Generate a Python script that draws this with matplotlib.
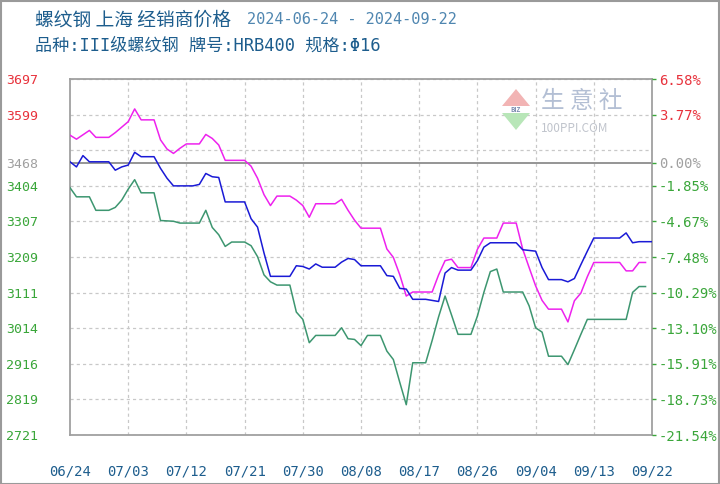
import matplotlib
matplotlib.use("Agg")
import matplotlib.pyplot as plt
from matplotlib.patches import Rectangle, Polygon
import pandas as pd

# ---------------- data ----------------
start_date = "2024-06-24"
tick_labels = ["06/24", "07/03", "07/12", "07/21", "07/30", "08/08",
               "08/17", "08/26", "09/04", "09/13", "09/22"]

price_high = [3543, 3532, 3544, 3556, 3537, 3537, 3537, 3550, 3565, 3580,
              3615, 3585, 3585, 3585, 3530, 3505, 3493, 3507, 3519, 3519,
              3519, 3545, 3534, 3516, 3474, 3474, 3474, 3474, 3458, 3425,
              3380, 3350, 3376, 3376, 3376, 3365, 3350, 3318, 3355, 3355,
              3355, 3355, 3367, 3337, 3310, 3288, 3288, 3288, 3288, 3231,
              3208, 3160, 3102, 3113, 3113, 3113, 3113, 3160, 3199, 3203,
              3180, 3180, 3180, 3230, 3261, 3261, 3261, 3302, 3302, 3302,
              3231, 3180, 3130, 3090, 3066, 3066, 3066, 3031, 3089, 3110,
              3155, 3194, 3194, 3194, 3194, 3194, 3171, 3171, 3194, 3194]

price_avg = [3470, 3456, 3487, 3470, 3470, 3470, 3470, 3447, 3456, 3461,
             3496, 3484, 3484, 3484, 3452, 3425, 3404, 3404, 3404, 3404,
             3408, 3438, 3429, 3427, 3360, 3360, 3360, 3360, 3314, 3291,
             3220, 3156, 3156, 3156, 3156, 3185, 3183, 3176, 3190, 3181,
             3181, 3181, 3195, 3205, 3202, 3185, 3185, 3185, 3185, 3158,
             3156, 3123, 3121, 3093, 3093, 3093, 3090, 3087, 3165, 3180,
             3173, 3173, 3173, 3199, 3236, 3248, 3248, 3248, 3248, 3248,
             3229, 3227, 3225, 3180, 3147, 3147, 3147, 3141, 3150, 3188,
             3225, 3261, 3261, 3261, 3261, 3261, 3275, 3248, 3251, 3251,
             3251]

price_low = [3399, 3374, 3374, 3374, 3337, 3337, 3337, 3345, 3365, 3395,
             3421, 3385, 3385, 3385, 3309, 3308, 3307, 3302, 3302, 3302,
             3302, 3337, 3290, 3270, 3238, 3250, 3250, 3250, 3240, 3210,
             3160, 3141, 3132, 3132, 3132, 3058, 3038, 2974, 2994, 2994,
             2994, 2994, 3015, 2985, 2983, 2966, 2994, 2994, 2994, 2951,
             2928, 2865, 2804, 2919, 2919, 2919, 2980, 3045, 3102, 3050,
             2997, 2997, 2997, 3047, 3112, 3169, 3176, 3113, 3113, 3113,
             3113, 3075, 3015, 3003, 2937, 2937, 2937, 2914, 2955, 2997,
             3038, 3038, 3038, 3038, 3038, 3038, 3038, 3112, 3128, 3128]

base_price = 3468
left_ticks = [3697, 3599, 3468, 3404, 3307, 3209, 3111, 3014, 2916, 2819, 2721]
right_labels = ["6.58%", "3.77%", "0.00%", "-1.85%", "-4.67%", "-7.48%",
                "-10.29%", "-13.10%", "-15.91%", "-18.73%", "-21.54%"]
grid_levels = [3697, 3599.4, 3501.8, 3404.2, 3306.6, 3209, 3111.4,
               3013.8, 2916.2, 2818.6, 2721]

title_main = "螺纹钢 上海 经销商价格"
title_dates = "2024-06-24 - 2024-09-22"
subtitle = "品种:III级螺纹钢 牌号:HRB400 规格:Φ16"

# ---------------- style ----------------
RED = "#e8323c"
GREEN = "#3aa63a"
GRAY = "#a0a0a0"
TITLE_C = "#1d5d8d"
C_HIGH = "#ee22ee"
C_AVG = "#1a1ad6"
C_LOW = "#3d9670"
MONO = ["DejaVu Sans Mono", "Noto Sans CJK SC"]

plt.rcParams["font.family"] = ["Noto Sans CJK SC", "DejaVu Sans"]

W, H = 720, 484
fig = plt.figure(figsize=(W / 100, H / 100), dpi=100)
fig.patch.set_facecolor("white")
fig.patches.append(Rectangle((0.5 / W, 0.5 / H), 1 - 1.5 / W, 1 - 1.5 / H,
                             transform=fig.transFigure, fill=False,
                             edgecolor="#9a9a9a", linewidth=1.5))

L, R, T, B = 70, 652, 79, 435
ax = fig.add_axes([L / W, 1 - B / H, (R - L) / W, (B - T) / H])

d_high = pd.date_range(start_date, periods=len(price_high), freq="D")
d_avg = pd.date_range(start_date, periods=len(price_avg), freq="D")
d_low = pd.date_range(start_date, periods=len(price_low), freq="D")
tick_dates = pd.date_range(start_date, periods=len(tick_labels), freq="9D")

# grid
for g in grid_levels:
    ax.axhline(g, color="#c8c8c8", linewidth=0.9, linestyle=(0, (2.5, 2.5)), zorder=1)
for td in tick_dates[1:-1]:
    ax.axvline(td, color="#c8c8c8", linewidth=0.9, linestyle=(0, (2.5, 2.5)), zorder=1)
ax.axhline(base_price, color="#8c8c8c", linewidth=1.3, zorder=2)

ax.plot(d_high, price_high, color=C_HIGH, linewidth=1.1, zorder=3)
ax.plot(d_avg, price_avg, color=C_AVG, linewidth=1.1, zorder=4)
ax.plot(d_low, price_low, color=C_LOW, linewidth=1.1, zorder=3)

ax.set_xlim(tick_dates[0], tick_dates[-1])
ax.set_ylim(left_ticks[-1], left_ticks[0])

for s in ax.spines.values():
    s.set_color(GRAY)
    s.set_linewidth(1.3)

ax.set_xticks(tick_dates)
ax.set_xticklabels(tick_labels, fontfamily=MONO, fontsize=10, color=TITLE_C)
ax.tick_params(axis="x", length=0, pad=21)

ax.set_yticks(left_ticks)
ax.set_yticklabels([str(v) for v in left_ticks], fontfamily=MONO, fontsize=9.5)
ax.tick_params(axis="y", length=0, pad=(L - 6) * 0.72)
for lab, v in zip(ax.get_yticklabels(), left_ticks):
    lab.set_horizontalalignment("left")
    lab.set_color(RED if v > base_price else ("#a0a0a0" if v == base_price else GREEN))

ax2 = ax.twinx()
ax2.set_ylim(ax.get_ylim())
ax2.set_yticks(left_ticks)
ax2.set_yticklabels(right_labels, fontfamily=MONO, fontsize=10)
ax2.tick_params(axis="y", length=3, width=1, pad=2, colors=GREEN)
for lab, v in zip(ax2.get_yticklabels(), left_ticks):
    lab.set_color(RED if v > base_price else ("#a0a0a0" if v == base_price else GREEN))
for s in ax2.spines.values():
    s.set_visible(False)

# titles
fig.text(35 / W, 1 - 20 / H, title_main, fontsize=13.5, color=TITLE_C, va="center", ha="left")
fig.text(247 / W, 1 - 20 / H, title_dates, fontsize=11, color="#4f86b0",
         va="center", ha="left", fontfamily=MONO)
fig.text(35 / W, 1 - 46 / H, subtitle, fontsize=12.3, color=TITLE_C, va="center",
         ha="left", fontfamily=MONO)

# watermark logo
fig.patches.append(Polygon([(502 / W, 1 - 106 / H), (530 / W, 1 - 106 / H), (516 / W, 1 - 89 / H)],
                           closed=True, transform=fig.transFigure, facecolor="#f2b4b4",
                           edgecolor="none", zorder=5))
fig.patches.append(Polygon([(502 / W, 1 - 113 / H), (530 / W, 1 - 113 / H), (516 / W, 1 - 130 / H)],
                           closed=True, transform=fig.transFigure, facecolor="#b8e6b8",
                           edgecolor="none", zorder=5))
fig.text(516 / W, 1 - 109.5 / H, "BIZ", fontsize=4.5, color="#7b8cb0", ha="center",
         va="center", fontweight="bold")
fig.text(541 / W, 1 - 101 / H, "生 意 社", fontsize=17, color="#b3bfd4", ha="left",
         va="center")
fig.text(541 / W, 1 - 128 / H, "100PPI.COM", fontsize=8.5, color="#c0c4cc", ha="left",
         va="center")

fig.savefig("out.png", dpi=100, facecolor="white")
